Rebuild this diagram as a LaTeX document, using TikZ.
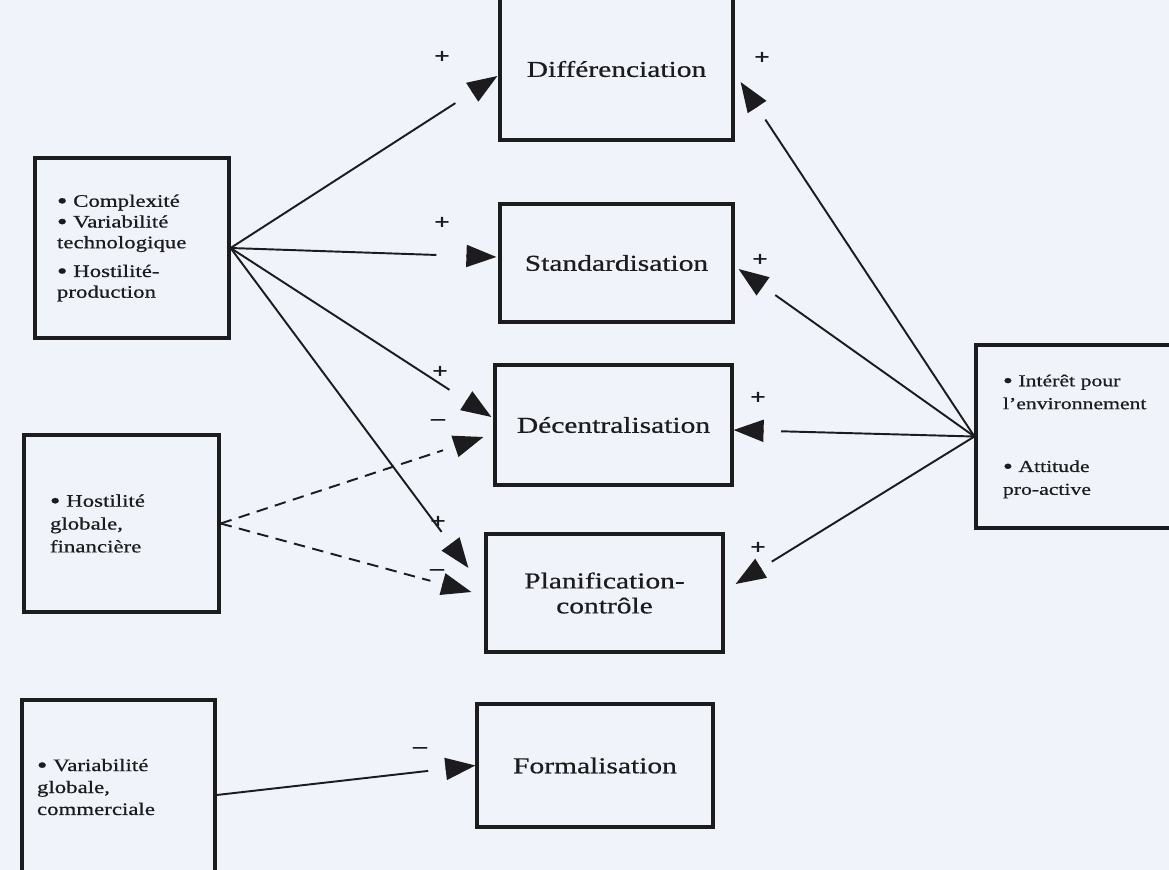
\documentclass[tikz,border=0pt]{standalone}
\usepackage{fontspec}
\setmainfont{Liberation Serif}[FakeStretch=1.3, FakeBold=0.7]
\usetikzlibrary{arrows.meta,calc}

\definecolor{paper}{RGB}{240,244,250}
\definecolor{ink}{RGB}{28,28,30}

\newcommand\bul{\raisebox{-0.2ex}[0.8ex][0pt]{\scalebox{1.3}{\textbullet}}}

\tikzset{
  strbox/.style={draw=ink, line width=1.8pt, text=ink, align=center,
    font=\fontsize{12.9}{14.2}\selectfont},
  varbox/.style={draw=ink, line width=1.8pt, text=ink, align=left,
    font=\fontsize{10}{11.8}\selectfont},
  link/.style={draw=ink, line width=1.1pt},
  dashlink/.style={link, dash pattern=on 2.3mm off 1.5mm},
  pointer/.style={draw=ink, line width=1.1pt, -{Triangle[length=6mm,width=4.4mm]}},
  signlbl/.style={text=ink, inner sep=0pt, font=\fontsize{12}{12}\selectfont\bfseries},
}

\begin{document}
\begin{tikzpicture}[x=0.2mm, y=-0.2mm]
    \useasboundingbox (0,0) rectangle (1169,870);
    \fill[paper] (0,0) rectangle (1169,870);
    \clip (0,0) rectangle (1169,870);

    % Environment boxes, left
    \node[varbox, minimum width=38.8mm, minimum height=36mm, text width=30mm] (cplx) at (132,248)
        {\bul\ Complexité\\ \bul\ Variabilité\\ technologique\\[1.6mm] \bul\ Hostilité-\\ production};
    \node[varbox, minimum width=39mm, minimum height=35.4mm, text width=28.6mm,
          font=\fontsize{10}{13}\selectfont] (hostf) at (121.5,523.5)
        {\bul\ Hostilité\\ globale,\\ financière};
    \node[varbox, minimum width=38.6mm, minimum height=34.8mm, text width=32.6mm,
          font=\fontsize{10}{12.5}\selectfont] (varc) at (118.5,787)
        {\bul\ Variabilité\\ globale,\\ commerciale};

    % Environment box, right
    \node[varbox, minimum width=40.8mm, minimum height=36.6mm, text width=30mm,
          font=\fontsize{9.5}{13}\selectfont] (env) at (1078,436.5)
        {\bul\ Intérêt pour\\ l'environnement\\[8mm] \bul\ Attitude\\ pro-active};

    % Structure boxes
    \node[strbox, minimum width=46.6mm, minimum height=28.4mm] (diff) at (616.5,69) {Différenciation};
    \node[strbox, minimum width=46.6mm, minimum height=23.6mm] (std) at (616.5,263) {Standardisation};
    \node[strbox, minimum width=47.4mm, minimum height=24mm] (dec) at (613.5,425) {Décentralisation};
    \node[strbox, minimum width=47.4mm, minimum height=23.6mm] (plan) at (604.5,593) {Planification-\\contrôle};
    \node[strbox, minimum width=47.2mm, minimum height=24.6mm] (form) at (595,765.5) {Formalisation};

    % Arrow ends
    \coordinate (tdiffa) at ($(diff.west)+(-1,7)$);
    \coordinate (tstda) at ($(std.west)+(-2,-6)$);
    \coordinate (tdeca) at ($(dec.west)+(-2,-8)$);
    \coordinate (tplana) at ($(plan.west)+(-16,-25)$);
    \coordinate (tdecb) at ($(dec.west)+(-10,12)$);
    \coordinate (tplanb) at ($(plan.west)+(-13,-1)$);
    \coordinate (cstart) at ($(varc.east)+(0,8)$);
    \coordinate (tdiffe) at ($(diff.east)+(6,13)$);
    \coordinate (tstde) at ($(std.east)+(4,6)$);
    \coordinate (tdece) at ($(dec.east)+(0,5)$);
    \coordinate (tplane) at ($(plan.east)+(11,-9)$);

    % Complexite -> structure
    \draw[link] (cplx.east) -- ($(tdiffa)!10mm!(cplx.east)$);
    \draw[pointer] ($(tdiffa)!6mm!(cplx.east)$) -- (tdiffa);
    \draw[link] (cplx.east) -- ($(tstda)!12mm!(cplx.east)$);
    \draw[pointer] ($(tstda)!6mm!(cplx.east)$) -- (tstda);
    \draw[link] (cplx.east) -- ($(tdeca)!10mm!(cplx.east)$);
    \draw[pointer] ($(tdeca)!6mm!(cplx.east)$) -- (tdeca);
    \draw[link] (cplx.east) -- ($(tplana)!9mm!(cplx.east)$);
    \draw[pointer] ($(tplana)!6mm!(cplx.east)$) -- (tplana);

    % Hostilite globale -> structure
    \draw[dashlink] (hostf.east) -- ($(tdecb)!8.5mm!(hostf.east)$);
    \draw[pointer] ($(tdecb)!6mm!(hostf.east)$) -- (tdecb);
    \draw[dashlink] (hostf.east) -- ($(tplanb)!8.5mm!(hostf.east)$);
    \draw[pointer] ($(tplanb)!6mm!(hostf.east)$) -- (tplanb);

    % Variabilite globale -> formalisation
    \draw[link] (cstart) -- ($(form.west)!9.5mm!(cstart)$);
    \draw[pointer] ($(form.west)!6mm!(cstart)$) -- (form.west);

    % Environnement -> structure
    \draw[link] (env.west) -- ($(tdiffe)!9mm!(env.west)$);
    \draw[pointer] ($(tdiffe)!6mm!(env.west)$) -- (tdiffe);
    \draw[link] (env.west) -- ($(tstde)!9mm!(env.west)$);
    \draw[pointer] ($(tstde)!6mm!(env.west)$) -- (tstde);
    \draw[link] (env.west) -- ($(tdece)!9.5mm!(env.west)$);
    \draw[pointer] ($(tdece)!6mm!(env.west)$) -- (tdece);
    \draw[link] (env.west) -- ($(tplane)!8.5mm!(env.west)$);
    \draw[pointer] ($(tplane)!6mm!(env.west)$) -- (tplane);

    % Signs
    \node[signlbl] (sdiffa) at (442,57) {+};
    \node[signlbl] (sstda) at (442,223) {+};
    \node[signlbl] (sdeca) at (440,372) {+};
    \node[signlbl] (splana) at (438,522) {+};
    \node[signlbl] (sdecb) at (438,422) {–};
    \node[signlbl] (splanb) at (437,572) {–};
    \node[signlbl] (sform) at (420,750) {–};
    \node[signlbl] (sdiffe) at (762,58) {+};
    \node[signlbl] (sstde) at (760,260) {+};
    \node[signlbl] (sdece) at (758,398) {+};
    \node[signlbl] (splane) at (758,548) {+};
\end{tikzpicture}
\end{document}
